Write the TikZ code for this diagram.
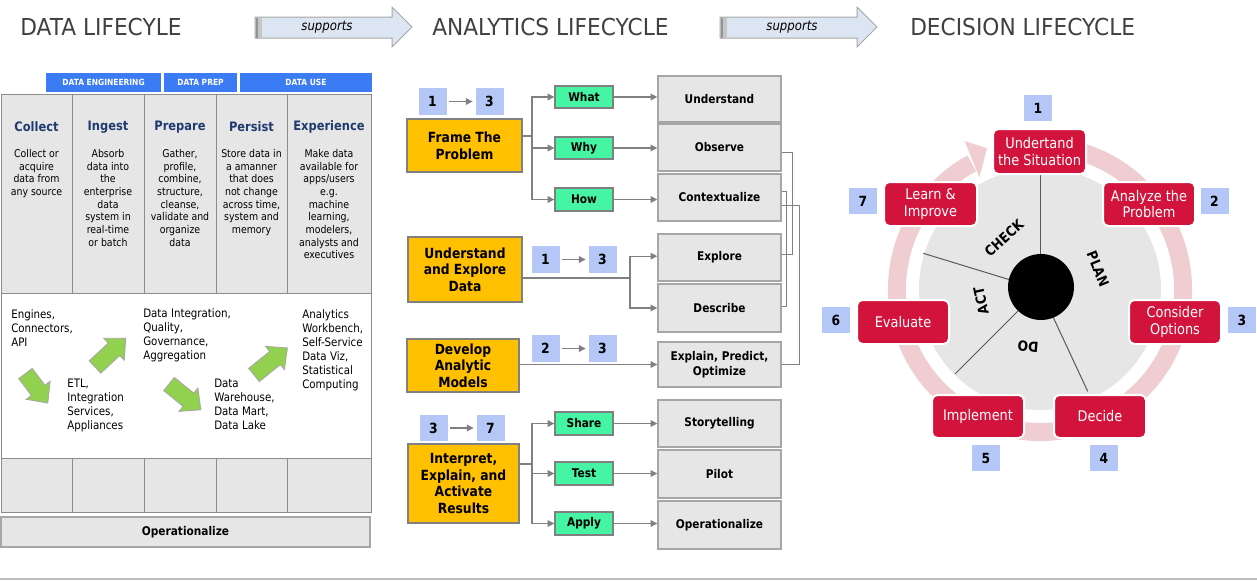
\documentclass[tikz,border=0pt]{standalone}
\usepackage{fontspec}
\setmainfont{DejaVu Sans}[FakeStretch=0.88]
\newfontfamily\headfont{DejaVu Sans}[FakeStretch=0.93]
\usetikzlibrary{arrows.meta,calc}
\definecolor{hdrgray}{HTML}{404040}
\definecolor{arrowfill}{HTML}{DCE6F2}
\definecolor{bordergray}{HTML}{A6A6A6}
\definecolor{tablegray}{HTML}{E6E6E6}
\definecolor{tableline}{HTML}{8C8C8C}
\definecolor{barblue}{HTML}{3B7CF4}
\definecolor{navy}{HTML}{1F3A6E}
\definecolor{gfill}{HTML}{92D050}
\definecolor{orangef}{HTML}{FFC000}
\definecolor{mintf}{HTML}{45F5A3}
\definecolor{badgeb}{HTML}{B4C7F7}
\definecolor{connc}{HTML}{808080}
\definecolor{crimson}{HTML}{D2143C}
\definecolor{ringpink}{HTML}{EFCDD1}
\definecolor{spokec}{HTML}{595959}
\newcommand\myfs[2]{\fontsize{#1}{#2}\selectfont}
\newcommand\supparrow[2]{%
  \begin{scope}[shift={(#1,0)}]
    \filldraw[fill=arrowfill, draw=bordergray, line width=0.75pt]
      (0,17) -- (137,17) -- (137,7) -- (157,27) -- (137,47) -- (137,38) -- (0,38) -- cycle;
    \fill[gray!85] (0.5,17.5) rectangle (3,37.5);
    \fill[gray!45] (3,17.5) rectangle (7,37.5);
    \node[font=\itshape\myfs{10}{12}, inner sep=0] (#2) at (72,27.5) {supports};
  \end{scope}}
\newcommand\greenarrow[4]{%
  \begin{scope}[shift={(#1,#2)}, rotate=#3]
    \filldraw[fill=gfill, draw=bordergray, line width=0.6pt]
      (0,-8.5) -- (#4-16,-8.5) -- (#4-16,-15) -- (#4,0) -- (#4-16,15) -- (#4-16,8.5) -- (0,8.5) -- cycle;
  \end{scope}}
\begin{document}
\begin{tikzpicture}[x=0.75pt,y=-0.75pt,
  boxat/.style args={#1/#2/#3/#4}{minimum width=(#3-#1)*0.75pt, minimum height=(#4-#2)*0.75pt,
     at={({(#1+#3)/2},{(#2+#4)/2})}, anchor=center},
  hdr/.style={anchor=west, inner sep=0, text=hdrgray, font=\headfont\myfs{17.5}{20}},
  bar/.style={fill=barblue, text=white, inner sep=0, font=\bfseries\myfs{6.4}{7.5}},
  cell/.style={fill=tablegray, draw=tableline, line width=0.75pt, inner sep=0},
  coltitle/.style={text=navy, font=\bfseries\myfs{9.75}{11}, inner sep=0},
  coldesc/.style={anchor=north, align=center, inner sep=0, font=\myfs{8}{9.5}},
  tool/.style={anchor=north west, align=left, inner sep=0, font=\myfs{8.75}{10.5}},
  obox/.style={fill=orangef, draw=gray, line width=1pt, inner sep=0, align=center, font=\bfseries\myfs{10.5}{12.5}},
  mbox/.style={fill=mintf, draw=gray, line width=1pt, inner sep=0, font=\bfseries\myfs{9}{11}},
  gbox/.style={fill=tablegray, draw=bordergray, line width=1.1pt, inner sep=0, align=center, font=\bfseries\myfs{9}{11}},
  badge/.style={fill=badgeb, minimum width=21pt, minimum height=20pt, inner sep=0, font=\bfseries\myfs{10.5}{12}},
  rbox/.style={fill=crimson, draw=white, line width=1.5pt, rounded corners=4pt, inner sep=0, align=center, text=white, font=\myfs{11}{12.5}},
  conn/.style={draw=connc, line width=0.9pt},
  arr/.style={conn, -{Triangle[length=5pt,width=5pt]}},
  lbl/.style={inner sep=0, font=\bfseries\myfs{10.5}{12}},
]
\useasboundingbox (0,0) rectangle (1257,582);

% ---------- headers ----------
\node[hdr] (h1) at (20,27) {DATA LIFECYLE};
\node[hdr] (h2) at (432,27) {ANALYTICS LIFECYCLE};
\node[hdr] (h3) at (910,27) {DECISION LIFECYCLE};
\supparrow{255}{s1}
\supparrow{720}{s2}

% ---------- data lifecycle ----------
\node[bar, boxat=46/73/161/92] (be) {DATA ENGINEERING};
\node[bar, boxat=164/73/237/92] (bp) {DATA PREP};
\node[bar, boxat=240/73/372/92] (bu) {DATA USE};

\node[cell, boxat=1/94/72/293] (c1) {};
\node[cell, boxat=72/94/144/293] (c2) {};
\node[cell, boxat=144/94/216/293] (c3) {};
\node[cell, boxat=216/94/287/293] (c4) {};
\node[cell, boxat=287/94/371/293] (c5) {};
\node[fill=white, draw=tableline, line width=0.75pt, inner sep=0, boxat=1/293/371/458] (mid) {};
\node[cell, boxat=1/458/72/512] (d1) {};
\node[cell, boxat=72/458/144/512] (d2) {};
\node[cell, boxat=144/458/216/512] (d3) {};
\node[cell, boxat=216/458/287/512] (d4) {};
\node[cell, boxat=287/458/371/512] (d5) {};
\node[fill=tablegray, draw=bordergray, line width=1pt, inner sep=0, boxat=1/517/370/547, font=\bfseries\myfs{9}{11}] (oper) {Operationalize};

\node[coltitle] (t1) at (36.5,127) {Collect};
\node[coltitle] (t2) at (108,127) {Ingest};
\node[coltitle] (t3) at (180,127) {Prepare};
\node[coltitle] (t4) at (251.5,127) {Persist};
\node[coltitle] (t5) at (329,127) {Experience};

\node[coldesc] (e1) at (36.5,149) {Collect or\\acquire\\data from\\any source};
\node[coldesc] (e2) at (108,149) {Absorb\\data into\\the\\enterprise\\data\\system in\\real-time\\or batch};
\node[coldesc] (e3) at (180,149) {Gather,\\profile,\\combine,\\structure,\\cleanse,\\validate and\\organize\\data};
\node[coldesc] (e4) at (251.5,149) {Store data in\\a amanner\\that does\\not change\\across time,\\system and\\memory};
\node[coldesc] (e5) at (329,149) {Make data\\available for\\apps/users\\e.g.\\machine\\learning,\\modelers,\\analysts and\\executives};

\node[tool] (k1) at (11,309) {Engines,\\Connectors,\\API};
\node[tool] (k2) at (67,379) {ETL,\\Integration\\Services,\\Appliances};
\node[tool] (k3) at (143,308) {Data Integration,\\Quality,\\Governance,\\Aggregation};
\node[tool] (k4) at (214,379) {Data\\Warehouse,\\Data Mart,\\Data Lake};
\node[tool] (k5) at (302,309) {Analytics\\Workbench,\\Self-Service\\Data Viz,\\Statistical\\Computing};

\greenarrow{25.5}{373.5}{-53}{37}
\greenarrow{95}{367}{43}{42}
\greenarrow{169}{384}{-39}{41}
\greenarrow{254}{375}{39}{43}

% ---------- analytics lifecycle ----------
\node[obox, boxat=407/119/522/172] (frame) {Frame The\\Problem};
\node[mbox, boxat=555/86/613/108] (what) {What};
\node[mbox, boxat=555/137/613/159] (why) {Why};
\node[mbox, boxat=555/188/613/211] (how) {How};
\node[gbox, boxat=658/76/781/122] (mund) {Understand};
\node[gbox, boxat=658/124/781/171] (obs) {Observe};
\node[gbox, boxat=658/174/781/221] (ctx) {Contextualize};
\node[obox, boxat=408/237/522/302] (uexp) {Understand\\and Explore\\Data};
\node[gbox, boxat=658/234/781/281] (explore) {Explore};
\node[gbox, boxat=658/284/781/332] (describe) {Describe};
\node[obox, boxat=407/339/519/392] (dev) {Develop\\Analytic\\Models};
\node[gbox, boxat=658/342/781/387] (expl) {Explain, Predict,\\Optimize};
\node[obox, boxat=408/444/519/523] (intp) {Interpret,\\Explain, and\\Activate\\Results};
\node[mbox, boxat=555/412/613/435] (share) {Share};
\node[mbox, boxat=555/462/613/485] (test) {Test};
\node[mbox, boxat=555/512/613/535] (apply) {Apply};
\node[gbox, boxat=658/400/781/447] (story) {Storytelling};
\node[gbox, boxat=658/450/781/498] (pilot) {Pilot};
\node[gbox, boxat=658/501/781/549] (opz) {Operationalize};

\node[badge] (ba1) at (432.5,101.5) {1};
\node[badge] (ba2) at (489.5,101.5) {3};
\node[badge] (bb1) at (545.5,259.5) {1};
\node[badge] (bb2) at (602.5,259.5) {3};
\node[badge] (bc1) at (545.5,348.5) {2};
\node[badge] (bc2) at (602.5,348.5) {3};
\node[badge] (bd1) at (433.5,428) {3};
\node[badge] (bd2) at (490.5,428) {7};
\foreach \a/\b in {ba1/ba2,bb1/bb2,bc1/bc2,bd1/bd2}
  \draw[arr] ([xshift=1.5pt]\a.east) -- ([xshift=-2pt]\b.west);

\coordinate (j1) at (532,136);
\draw[conn] (frame.east |- j1) -- (j1);
\draw[arr] (j1) |- (what.west);
\draw[arr] (j1) |- (why.west);
\draw[arr] (j1) |- (how.west);
\draw[arr] (what.east) -- (what.east -| mund.west);
\draw[arr] (why.east) -- (why.east -| obs.west);
\draw[arr] (how.east) -- (how.east -| ctx.west);

\coordinate (j2) at (630,278);
\draw[conn] (uexp.east |- j2) -- (j2);
\draw[arr] (j2) |- ([yshift=1pt]explore.west);
\draw[arr] (j2) |- (describe.west);

\draw[arr] (dev.east |- expl.west) -- (expl.west);

\coordinate (j3) at (532,464);
\draw[conn] (intp.east |- j3) -- (j3);
\draw[arr] (j3) |- (share.west);
\draw[arr] (j3) |- (test.west);
\draw[arr] (j3) |- (apply.west);
\draw[arr] (share.east) -- (share.east -| story.west);
\draw[arr] (test.east) -- (test.east -| pilot.west);
\draw[arr] (apply.east) -- (apply.east -| opz.west);

\coordinate (q1) at (792,152);
\coordinate (q2) at (786,191);
\coordinate (q3) at (799,205);
\draw[conn, line width=0.75pt] (obs.east |- q1) -- (q1) |- ([yshift=1.9pt]explore.east);
\draw[conn, line width=0.75pt] (ctx.east |- q2) -- (q2) |- ([yshift=1.5pt]describe.east);
\draw[conn, line width=0.75pt] (ctx.east |- q3) -- (q3) |- (expl.east);

% ---------- decision lifecycle ----------
\begin{scope}[shift={(1040,289)}, yscale=-1]
  \draw[ringpink, line width=13.5pt] (78:143) arc[start angle=78, end angle=-241.5, radius=143];
  \fill[ringpink] (118.5:127) -- (117:166) -- (110.6:150.5) -- cycle;
  \fill[tablegray] (0,0) circle (121);
  \coordinate (o) at (0,0);
  \coordinate (sp1) at (90:118);
  \coordinate (sp2) at (-65:113);
  \coordinate (sp3) at (-135:120);
  \coordinate (sp4) at (163:122);
  \foreach \s in {sp1,sp2,sp3,sp4} \draw[spokec, line width=0.75pt] (o) -- (\s);
  \node[circle, fill=black, minimum size=49.5pt, inner sep=0] (hub) at (1,2) {};
  \node[lbl, rotate=-68] (plan) at (58,20) {PLAN};
  \node[lbl, rotate=42] (check) at (-36,51) {CHECK};
  \node[lbl, rotate=102] (act) at (-59,-12) {ACT};
  \node[lbl, rotate=175] (do) at (-12,-58) {DO};
\end{scope}

\node[rbox, boxat=993/129/1086/174] (rund) {Undertand\\the Situation};
\node[rbox, boxat=1103/182/1195/226] (ana) {Analyze the\\Problem};
\node[rbox, boxat=1129/300/1221/344] (con) {Consider\\Options};
\node[rbox, boxat=1054/395/1146/438] (dec) {Decide};
\node[rbox, boxat=932/395/1024/438] (imp) {Implement};
\node[rbox, boxat=857/300/949/344] (eva) {Evaluate};
\node[rbox, boxat=884/182/977/226] (lea) {Learn \&\\Improve};

\node[badge] (r1) at (1038,108) {1};
\node[badge] (r2) at (1214.5,201) {2};
\node[badge] (r3) at (1242,320) {3};
\node[badge] (r4) at (1104,458) {4};
\node[badge] (r5) at (986,458) {5};
\node[badge] (r6) at (836,320) {6};
\node[badge] (r7) at (863,201) {7};

\draw[gray!50, line width=1pt] (0,579) -- (1257,579);
\end{tikzpicture}
\end{document}
